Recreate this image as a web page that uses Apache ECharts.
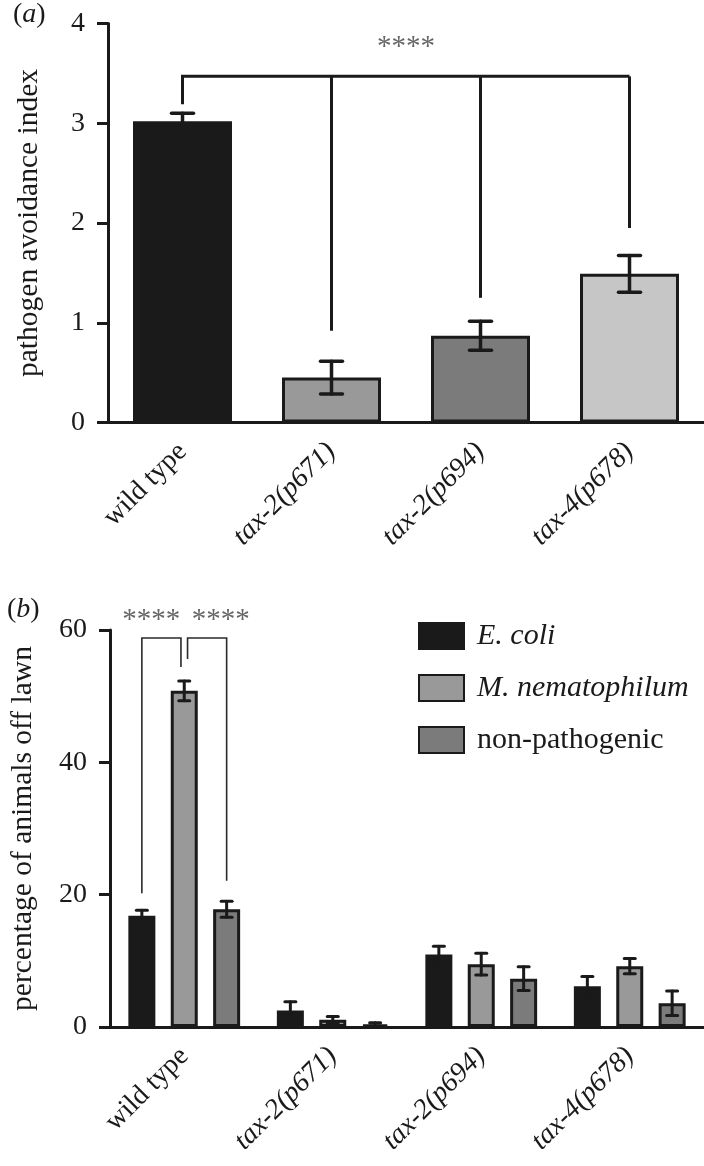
<!DOCTYPE html>
<html><head><meta charset="utf-8">
<script src="https://cdn.jsdelivr.net/npm/echarts@6/dist/echarts.min.js"></script>
<style>html,body{margin:0;padding:0;background:#fff}#c{width:704px;height:1166px}</style>
</head><body><div id="c"></div>
<script>
// ---------- data ----------
const categories = ['wild type', 'tax-2(p671)', 'tax-2(p694)', 'tax-4(p678)'];
const italicCats = ['tax-2(p671)', 'tax-2(p694)', 'tax-4(p678)'];
// panel (a)
const avoidIndex = [3.02, 0.45, 0.87, 1.49];
const avoidErr = [0.08, 0.165, 0.145, 0.185];
const avoidTicks = [0, 1, 2, 3, 4];
// panel (b)
const seriesNames = ['E. coli', 'M. nematophilum', 'non-pathogenic'];
const italicNames = ['E. coli', 'M. nematophilum'];
const ecoli = [16.8, 2.5, 10.95, 6.15];
const ecoliErr = [0.85, 1.3, 1.25, 1.5];
const mnem = [50.8, 1.1, 9.5, 9.2];
const mnemErr = [1.5, 0.5, 1.65, 1.15];
const nonpath = [17.8, 0.4, 7.3, 3.6];
const nonpathErr = [1.2, 0.25, 1.8, 1.85];
const offLawnTicks = [0, 20, 40, 60];
// significance annotations
const bracketA = { from: 0, to: [1, 2, 3], top: 3.47, fromEnd: 3.19, ends: [0.92, 1.25, 1.95], label: '****', labelY: 3.76 };
const bracketsB = [
  { cat: 0, left: 0, right: 1, leftEnd: 20.2, rightEnd: 54.4, top: 58.8, label: '****' },
  { cat: 0, left: 1, right: 2, leftEnd: 55.6, rightEnd: 22.1, top: 58.8, label: '****' }
];
const starsYB = 61.4;

// ---------- style ----------
const FONT = '"Liberation Serif", "Times New Roman", serif';
const INK = '#1a1a1a';
const colorsA = ['#1a1a1a', '#999999', '#7b7b7b', '#c6c6c6'];
const colorsB = ['#1a1a1a', '#999999', '#7b7b7b'];
const BW_B = 27, GAP_B = 0.57;
const SPACING_B = BW_B * (1 + GAP_B);

const chart = echarts.init(document.getElementById('c'));

function catLabel(v) { return italicCats.indexOf(v) >= 0 ? '{i|' + v + '}' : '{n|' + v + '}'; }
const richLbl = {
  n: { fontFamily: FONT, fontSize: 28, color: INK, fontWeight: 'normal' },
  i: { fontFamily: FONT, fontSize: 28, color: INK, fontStyle: 'italic', fontWeight: 'normal' }
};

function errRender(offset, capW, lw) {
  return function (params, api) {
    const c = api.value(0);
    const lo = api.coord([c, api.value(1)]);
    const hi = api.coord([c, api.value(2)]);
    const x = lo[0] + offset;
    const st = { stroke: INK, lineWidth: lw, lineCap: 'round' };
    return { type: 'group', children: [
      { type: 'line', shape: { x1: x, y1: lo[1], x2: x, y2: hi[1] }, style: st },
      { type: 'line', shape: { x1: x - capW / 2, y1: lo[1], x2: x + capW / 2, y2: lo[1] }, style: st },
      { type: 'line', shape: { x1: x - capW / 2, y1: hi[1], x2: x + capW / 2, y2: hi[1] }, style: st }
    ]};
  };
}

const xAxisCommon = {
  type: 'category', data: categories,
  axisLine: { lineStyle: { color: INK, width: 3 } },
  axisTick: { alignWithLabel: true, length: 11, lineStyle: { color: INK, width: 3 } },
  axisLabel: { rotate: 45, margin: 25, formatter: catLabel, rich: richLbl, interval: 0 }
};
const yAxisCommon = {
  type: 'value', splitLine: { show: false },
  axisLine: { show: true, lineStyle: { color: INK, width: 3 } },
  axisTick: { show: true, length: 11, lineStyle: { color: INK, width: 3 } },
  axisLabel: { fontFamily: FONT, fontSize: 28, color: INK, margin: 23 },
  nameLocation: 'middle', nameRotate: 90,
  nameTextStyle: { fontFamily: FONT, fontSize: 29.5, color: INK }
};

const option = {
  animation: false,
  backgroundColor: '#fff',
  title: [
    { text: '{n|(}{i|a}{n|)}', left: 8, top: -4, textStyle: { fontWeight: 'normal', rich: richLbl } },
    { text: '{n|(}{i|b}{n|)}', left: 2, top: 591, textStyle: { fontWeight: 'normal', rich: richLbl } }
  ],
  grid: [
    { left: 108, right: 0, top: 23.5, height: 399 },
    { left: 108, right: 0, top: 630, height: 397 }
  ],
  xAxis: [
    Object.assign({ gridIndex: 0 }, xAxisCommon),
    Object.assign({ gridIndex: 1 }, xAxisCommon)
  ],
  yAxis: [
    Object.assign({}, yAxisCommon, { gridIndex: 0, min: avoidTicks[0], max: avoidTicks[avoidTicks.length - 1], interval: 1,
      name: 'pathogen avoidance index', nameGap: 64 }),
    Object.assign({}, yAxisCommon, { gridIndex: 1, min: offLawnTicks[0], max: offLawnTicks[offLawnTicks.length - 1], interval: 20,
      name: 'percentage of animals off lawn', nameGap: 72 })
  ],
  legend: {
    orient: 'vertical', left: 418, top: 621, padding: 0, itemWidth: 45, itemHeight: 26, itemGap: 22,
    icon: 'rect', data: seriesNames,
    formatter: n => (italicNames.indexOf(n) >= 0 ? '{i|' + n + '}' : '{n|' + n + '}'),
    textStyle: { padding: [0, 0, 0, 8], rich: {
      n: { fontFamily: FONT, fontSize: 30, color: INK },
      i: { fontFamily: FONT, fontSize: 30, color: INK, fontStyle: 'italic' } } }
  },
  series: [
    { type: 'bar', xAxisIndex: 0, yAxisIndex: 0, barWidth: 99,
      data: avoidIndex.map((v, i) => ({ value: v, itemStyle: { color: colorsA[i] } })),
      itemStyle: { borderColor: INK, borderWidth: 3 } },
    { type: 'custom', xAxisIndex: 0, yAxisIndex: 0, clip: false, z: 5,
      data: avoidIndex.map((v, i) => [i, v - avoidErr[i], v + avoidErr[i]]),
      renderItem: errRender(0, 22, 3.5) },
    { type: 'custom', xAxisIndex: 0, yAxisIndex: 0, clip: false, z: 5,
      data: [[bracketA.from, bracketA.top]],
      renderItem: function (params, api) {
        const st = { stroke: INK, lineWidth: 3, fill: null };
        const p0 = api.coord([bracketA.from, bracketA.fromEnd]);
        const p0t = api.coord([bracketA.from, bracketA.top]);
        const last = bracketA.to[bracketA.to.length - 1];
        const pLt = api.coord([last, bracketA.top]);
        const ch = [
          { type: 'polyline', shape: { points: [p0, p0t, pLt] }, style: st }
        ];
        bracketA.to.forEach((c, k) => {
          const a = api.coord([c, bracketA.top]);
          const b = api.coord([c, bracketA.ends[k]]);
          ch.push({ type: 'line', shape: { x1: a[0], y1: a[1], x2: b[0], y2: b[1] }, style: st });
        });
        const ly = api.coord([0, bracketA.labelY])[1];
        ch.push({ type: 'text', style: { text: bracketA.label, x: (p0t[0] + pLt[0]) / 2, y: ly,
          align: 'center', verticalAlign: 'middle', fontFamily: FONT, fontSize: 29, fill: '#666' } });
        return { type: 'group', children: ch };
      } },
    { type: 'bar', name: seriesNames[0], xAxisIndex: 1, yAxisIndex: 1, barWidth: BW_B, barGap: (GAP_B * 100) + '%',
      data: ecoli, itemStyle: { color: colorsB[0], borderColor: INK, borderWidth: 3 } },
    { type: 'bar', name: seriesNames[1], xAxisIndex: 1, yAxisIndex: 1, barWidth: BW_B, barGap: (GAP_B * 100) + '%',
      data: mnem, itemStyle: { color: colorsB[1], borderColor: INK, borderWidth: 3 } },
    { type: 'bar', name: seriesNames[2], xAxisIndex: 1, yAxisIndex: 1, barWidth: BW_B, barGap: (GAP_B * 100) + '%',
      data: nonpath, itemStyle: { color: colorsB[2], borderColor: INK, borderWidth: 3 } },
    { type: 'custom', xAxisIndex: 1, yAxisIndex: 1, clip: false, z: 5,
      data: ecoli.map((v, i) => [i, v - ecoliErr[i], v + ecoliErr[i]]), renderItem: errRender(-SPACING_B, 11, 3) },
    { type: 'custom', xAxisIndex: 1, yAxisIndex: 1, clip: false, z: 5,
      data: mnem.map((v, i) => [i, v - mnemErr[i], v + mnemErr[i]]), renderItem: errRender(0, 11, 3) },
    { type: 'custom', xAxisIndex: 1, yAxisIndex: 1, clip: false, z: 5,
      data: nonpath.map((v, i) => [i, v - nonpathErr[i], v + nonpathErr[i]]), renderItem: errRender(SPACING_B, 11, 3) },
    { type: 'custom', xAxisIndex: 1, yAxisIndex: 1, clip: false, z: 5,
      data: bracketsB.map((b, k) => [b.cat, b.top, k]),
      renderItem: function (params, api) {
        const b = bracketsB[api.value(2)];
        const st = { stroke: '#2a2a2a', lineWidth: 1.6, fill: null };
        const inset = 3.3;
        const xl = api.coord([b.cat, 0])[0] + (b.left - 1) * SPACING_B + (b.left === 1 ? inset : 0);
        const xr = api.coord([b.cat, 0])[0] + (b.right - 1) * SPACING_B - (b.right === 1 ? inset : 0);
        const yl = api.coord([b.cat, b.leftEnd])[1];
        const yr = api.coord([b.cat, b.rightEnd])[1];
        const yt = api.coord([b.cat, b.top])[1];
        const ys = api.coord([b.cat, starsYB])[1];
        const first = api.value(2) === 0;
        const cx = api.coord([b.cat, 0])[0];
        return { type: 'group', children: [
          { type: 'polyline', shape: { points: [[xl, yl], [xl, yt], [xr, yt], [xr, yr]] }, style: st },
          { type: 'text', style: { text: b.label, x: first ? cx - 4 : cx + 7.5, y: ys,
            align: first ? 'right' : 'left', verticalAlign: 'middle', fontFamily: FONT, fontSize: 29, fill: '#666' } }
        ]};
      } }
  ]
};
chart.setOption(option);
</script>
</body></html>
